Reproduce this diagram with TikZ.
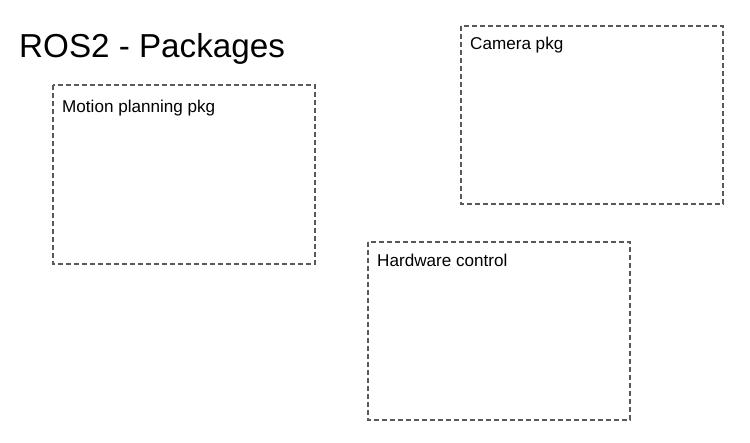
\documentclass[tikz,border=0pt]{standalone}
\usepackage{fontspec}
\setmainfont{Liberation Sans}
\begin{document}
\begin{tikzpicture}[x=1pt,y=-1pt,
  pkgbox/.style={draw=black!65, line width=1.3pt, dash pattern=on 5pt off 3pt, inner sep=0pt},
  pkglabel/.style={anchor=base west, inner sep=0pt, font=\fontsize{17.1}{20}\selectfont},
  titletext/.style={anchor=base west, inner sep=0pt, font=\fontsize{33.2}{38}\selectfont}]
\useasboundingbox (0,0) rectangle (750,442);
\node[titletext] (title) at (19,57) {ROS2 - Packages};
\draw[pkgbox] (53,85) rectangle (315,264);
\coordinate (motion) at (53,85);
\draw[pkgbox] (461,26) rectangle (723,204);
\coordinate (camera) at (461,26);
\draw[pkgbox] (368,242) rectangle (630,420);
\coordinate (hw) at (368,242);
\node[pkglabel] (motionlbl) at (62,112) {Motion planning pkg};
\node[pkglabel] (cameralbl) at (470,49.5) {Camera pkg};
\node[pkglabel] (hwlbl) at (377,266.5) {Hardware control};
\end{tikzpicture}
\end{document}
